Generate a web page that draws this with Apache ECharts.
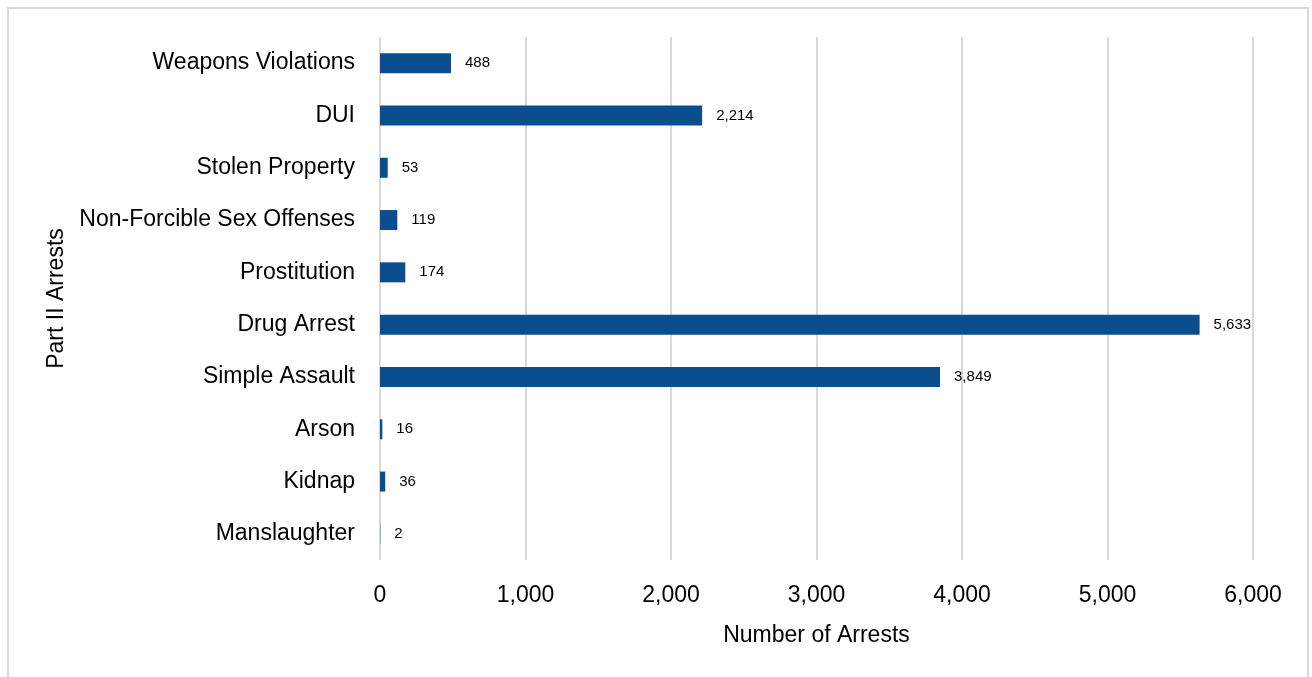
<!DOCTYPE html>
<html><head><meta charset="utf-8">
<script src="https://cdn.jsdelivr.net/npm/echarts@6/dist/echarts.min.js"></script>
<style>html,body{margin:0;padding:0;background:#fff}#frame{position:absolute;left:7px;top:7px;width:1302px;height:690px;border:2px solid #d9d9d9;box-sizing:border-box}#c{position:absolute;left:0;top:0;width:1312px;height:677px}</style>
</head><body><div id="frame"></div><div id="c"></div>
<script>
const categories = ["Manslaughter","Kidnap","Arson","Simple Assault","Drug Arrest","Prostitution","Non-Forcible Sex Offenses","Stolen Property","DUI","Weapons Violations"];
const arrests = [2,36,16,3849,5633,174,119,53,2214,488];
const xTicks = [0,1000,2000,3000,4000,5000,6000];
const FONT = "'Liberation Sans Narrow','Arial Narrow','Liberation Sans',sans-serif";
const chart = echarts.init(document.getElementById('c'), null, {renderer:'canvas'});
chart.setOption({
  animation:false,
  grid:{left:380,right:59,top:37,bottom:117,containLabel:false},
  xAxis:{type:'value',min:xTicks[0],max:xTicks[xTicks.length-1],interval:1000,
    name:'Number of Arrests',nameLocation:'middle',nameGap:64,
    nameTextStyle:{fontFamily:FONT,fontSize:23,color:'#000'},
    axisLine:{show:false},axisTick:{show:false},
    axisLabel:{fontFamily:FONT,fontSize:23,color:'#000',margin:24,
      formatter:v=>v.toLocaleString('en-US')},
    splitLine:{show:true,lineStyle:{color:'#d9d9d9',width:2}}},
  yAxis:{type:'category',data:categories,
    name:'Part II Arrests',nameLocation:'middle',nameGap:312,nameRotate:90,
    nameTextStyle:{fontFamily:FONT,fontSize:23,color:'#000'},
    axisLine:{show:false},axisTick:{show:false},
    axisLabel:{fontFamily:FONT,fontSize:23,color:'#000',margin:25}},
  series:[{type:'bar',data:arrests,barWidth:20,
    itemStyle:{color:'#0b4e90'},
    label:{show:true,position:'right',distance:14,fontFamily:FONT,fontSize:15,color:'#000',
      formatter:p=>p.value.toLocaleString('en-US')}}]
});
</script></body></html>
